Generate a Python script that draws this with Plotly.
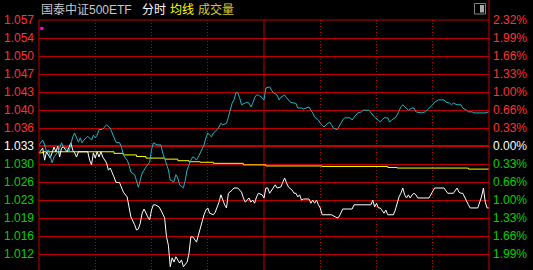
import plotly.graph_objects as go

# ---------------- data ----------------
prev_close = 1.033          # previous close of the ETF
grid_step_pct = 0.3319      # percent per horizontal grid step

left_labels = ["1.057", "1.054", "1.050", "1.047", "1.043", "1.040", "1.036",
               "1.033", "1.030", "1.026", "1.023", "1.019", "1.016", "1.012"]
right_labels = ["2.32%", "1.99%", "1.66%", "1.33%", "1.00%", "0.66%", "0.33%",
                "0.00%", "0.33%", "0.66%", "1.00%", "1.33%", "1.66%", "1.99%"]
grid_steps = [7, 6, 5, 4, 3, 2, 1, 0, -1, -2, -3, -4, -5, -6]

etf_minutes = [0, 2, 3, 4, 5, 6, 8, 9, 10, 11, 12, 13, 15, 17, 18, 19, 20, 21, 26, 27,
               28, 29, 30, 31, 32, 33, 34, 36, 37, 38, 40, 41, 43, 44, 45, 47, 48, 49, 51, 52,
               53, 54, 55, 56, 58, 59, 60, 61, 62, 64, 65, 67, 68, 69, 70, 71, 72, 73, 75, 76,
               77, 79, 80, 81, 82, 84, 85, 87, 88, 89, 90, 91, 93, 94, 95, 96, 97, 98, 99, 100,
               101, 103, 104, 106, 108, 109, 110, 112, 113, 114, 115, 116, 117, 119, 120, 121, 122, 123, 124, 126,
               127, 129, 130, 131, 132, 133, 135, 136, 137, 138, 139, 140, 141, 144, 145, 146, 147, 148, 149, 150,
               151, 153, 156, 158, 159, 160, 161, 162, 167, 168, 177, 178, 179, 180, 181, 182, 184, 185, 186, 189,
               190, 191, 192, 193, 194, 195, 196, 197, 198, 199, 200, 201, 202, 208, 209, 211, 216, 218, 221, 223,
               224, 225, 226, 228, 229, 230, 234, 236, 237, 238, 239, 240]
etf_price = [1.0317, 1.0326, 1.0303, 1.0319, 1.0313, 1.0307, 1.0328, 1.0319, 1.0330, 1.0309,
             1.0326, 1.0328, 1.0319, 1.0336, 1.0322, 1.0317, 1.0309, 1.0319, 1.0319, 1.0303,
             1.0294, 1.0317, 1.0307, 1.0319, 1.0309, 1.0319, 1.0309, 1.0298, 1.0284, 1.0288,
             1.0271, 1.0261, 1.0260, 1.0252, 1.0242, 1.0233, 1.0214, 1.0195, 1.0180, 1.0170,
             1.0172, 1.0183, 1.0202, 1.0210, 1.0195, 1.0189, 1.0208, 1.0218, 1.0218, 1.0214,
             1.0208, 1.0193, 1.0157, 1.0141, 1.0100, 1.0117, 1.0109, 1.0119, 1.0107, 1.0113,
             1.0100, 1.0109, 1.0126, 1.0157, 1.0157, 1.0147, 1.0160, 1.0189, 1.0199, 1.0208,
             1.0212, 1.0202, 1.0199, 1.0204, 1.0212, 1.0223, 1.0237, 1.0227, 1.0218, 1.0212,
             1.0240, 1.0246, 1.0250, 1.0250, 1.0242, 1.0231, 1.0223, 1.0231, 1.0223, 1.0227,
             1.0221, 1.0233, 1.0240, 1.0237, 1.0231, 1.0250, 1.0250, 1.0240, 1.0246, 1.0256,
             1.0250, 1.0252, 1.0261, 1.0269, 1.0260, 1.0252, 1.0246, 1.0240, 1.0240, 1.0233,
             1.0237, 1.0227, 1.0229, 1.0229, 1.0221, 1.0227, 1.0221, 1.0227, 1.0218, 1.0212,
             1.0199, 1.0199, 1.0199, 1.0195, 1.0193, 1.0195, 1.0202, 1.0210, 1.0210, 1.0218,
             1.0218, 1.0227, 1.0214, 1.0221, 1.0212, 1.0212, 1.0202, 1.0208, 1.0199, 1.0199,
             1.0208, 1.0221, 1.0233, 1.0240, 1.0250, 1.0237, 1.0231, 1.0237, 1.0231, 1.0237,
             1.0240, 1.0237, 1.0231, 1.0231, 1.0237, 1.0250, 1.0250, 1.0240, 1.0240, 1.0250,
             1.0242, 1.0240, 1.0240, 1.0223, 1.0218, 1.0212, 1.0212, 1.0233, 1.0250, 1.0223,
             1.0212, 1.0212]

index_minutes = [0, 1, 2, 3, 4, 5, 6, 7, 8, 10, 11, 12, 13, 15, 16, 17, 18, 19, 20, 21,
                 22, 23, 24, 25, 26, 28, 29, 30, 31, 32, 34, 35, 36, 38, 39, 41, 43, 44, 45, 47,
                 48, 49, 51, 52, 53, 54, 55, 57, 59, 60, 61, 63, 65, 66, 68, 69, 70, 72, 73, 74,
                 75, 77, 78, 79, 81, 82, 83, 84, 85, 87, 88, 89, 90, 91, 92, 93, 95, 96, 97, 98,
                 100, 101, 102, 103, 104, 105, 106, 107, 108, 110, 111, 112, 113, 114, 115, 116, 117, 119, 120, 121,
                 123, 124, 125, 127, 128, 129, 131, 132, 134, 136, 137, 138, 140, 141, 144, 145, 146, 147, 149, 150,
                 151, 152, 153, 155, 156, 157, 159, 160, 161, 162, 163, 166, 167, 168, 170, 172, 173, 176, 177, 179,
                 181, 182, 183, 184, 186, 187, 188, 190, 191, 192, 193, 194, 195, 196, 197, 199, 200, 201, 203, 204,
                 206, 207, 208, 210, 211, 213, 216, 217, 219, 220, 221, 223, 225, 226, 228, 229, 231, 232, 238, 240]
index_pct = [0.02, 0.07, 0.11, 0.02, -0.11, -0.07, -0.22, -0.31, -0.20, -0.11,
             -0.04, 0.06, -0.02, -0.04, -0.11, 0.06, 0.17, 0.24, 0.17, 0.07,
             0.15, 0.06, 0.11, 0.15, 0.18, 0.11, 0.20, 0.15, 0.20, 0.30,
             0.31, 0.35, 0.39, 0.33, 0.24, 0.07, 0.06, -0.02, -0.17, -0.26,
             -0.35, -0.48, -0.53, -0.63, -0.76, -0.63, -0.50, -0.39, -0.30, -0.07,
             0.06, 0.02, 0.02, -0.13, -0.35, -0.44, -0.63, -0.66, -0.53, -0.59,
             -0.72, -0.77, -0.63, -0.44, -0.26, -0.20, -0.22, -0.26, -0.20, -0.07,
             0.02, 0.15, 0.24, 0.20, 0.17, 0.24, 0.30, 0.35, 0.42, 0.39,
             0.42, 0.53, 0.66, 0.79, 0.85, 0.98, 0.98, 0.89, 0.76, 0.79,
             0.81, 0.79, 0.72, 0.79, 0.89, 0.94, 0.94, 0.89, 0.85, 1.07,
             1.09, 1.03, 0.98, 0.94, 0.85, 0.90, 0.94, 0.89, 0.81, 0.79,
             0.79, 0.70, 0.70, 0.68, 0.72, 0.66, 0.61, 0.53, 0.48, 0.42,
             0.39, 0.35, 0.39, 0.44, 0.39, 0.33, 0.30, 0.35, 0.42, 0.48,
             0.52, 0.52, 0.48, 0.53, 0.61, 0.63, 0.66, 0.66, 0.61, 0.53,
             0.48, 0.44, 0.48, 0.52, 0.52, 0.44, 0.48, 0.52, 0.57, 0.66,
             0.72, 0.76, 0.72, 0.70, 0.66, 0.70, 0.70, 0.63, 0.61, 0.61,
             0.63, 0.66, 0.70, 0.76, 0.81, 0.85, 0.85, 0.81, 0.79, 0.76,
             0.79, 0.76, 0.76, 0.70, 0.66, 0.63, 0.63, 0.61, 0.61, 0.63]

avg_minutes = [0, 2, 40, 45, 52, 57, 67, 74, 80, 86, 93, 109, 121, 151, 186, 191, 229, 240]
avg_price = [1.0317, 1.0319, 1.0316, 1.0313, 1.0310, 1.0307, 1.0305, 1.0302, 1.0300,
             1.0299, 1.0297, 1.0294, 1.0292, 1.0291, 1.0289, 1.0288, 1.0286, 1.0286]

marker_minute = [1.5]
marker_price = [1.0554]

title_parts = ["国泰中证500ETF", "分时", "均线", "成交量"]

# ---------------- styling ----------------
BG = "#000000"
RED = "#c00000"
UP = "#ff3232"
DOWN = "#00d200"
FONT = "Liberation Sans, Arial, Noto Sans CJK SC"

W, H = 533, 270
L, R, T, B = 39, 44, 20, 0
plot_h = H - T - B
px_per_step = 18.0
top_pct = 7 * grid_step_pct
bot_pct = top_pct - plot_h / px_per_step * grid_step_pct
pct_range = [bot_pct, top_pct + 1e-6]
price_range = [prev_close * (1 + p / 100) for p in pct_range]


def colored(text, s):
    c = UP if s > 0 else (DOWN if s < 0 else "#ffffff")
    return f'<span style="color:{c}">{text}</span>'


left_vals = [prev_close * (1 + s * grid_step_pct / 100) for s in grid_steps]
right_vals = [s * grid_step_pct for s in grid_steps]
left_text = [colored(t, s) for t, s in zip(left_labels, grid_steps)]
right_text = [colored(t, s) for t, s in zip(right_labels, grid_steps)]

fig = go.Figure()
fig.add_trace(go.Scatter(x=avg_minutes, y=avg_price, mode="lines", line=dict(color="#ffff00", width=1, shape="hv"),
                         yaxis="y", hoverinfo="skip"))
fig.add_trace(go.Scatter(x=index_minutes, y=index_pct, mode="lines", line=dict(color="#22b4c4", width=1),
                         yaxis="y2", hoverinfo="skip"))
fig.add_trace(go.Scatter(x=etf_minutes, y=etf_price, mode="lines", line=dict(color="#ffffff", width=1),
                         yaxis="y", hoverinfo="skip"))
fig.add_trace(go.Scatter(x=marker_minute, y=marker_price, mode="markers",
                         marker=dict(color="#ff00ff", size=3, symbol="square", line=dict(width=0)),
                         yaxis="y", hoverinfo="skip"))

shapes = []
# zero (previous close) line, thicker
shapes.append(dict(type="line", xref="paper", yref="y", x0=0, x1=1, y0=prev_close, y1=prev_close,
                   line=dict(color=RED, width=2), layer="below"))
# solid noon divider
shapes.append(dict(type="line", xref="x", yref="paper", x0=120, x1=120, y0=0, y1=1,
                   line=dict(color=RED, width=1), layer="below"))
# borders
shapes.append(dict(type="line", xref="paper", yref="paper", x0=0, x1=0, y0=0, y1=1,
                   line=dict(color=RED, width=1)))
shapes.append(dict(type="line", xref="paper", yref="paper", x0=0, x1=1, y0=1, y1=1,
                   line=dict(color=RED, width=1)))
shapes.append(dict(type="line", xref="paper", yref="paper", x0=1, x1=1, y0=0, y1=1 + T / plot_h,
                   line=dict(color=RED, width=1)))
# small window icon top right
def px_x(x):
    return (x - L) / (W - L - R)

def px_y(y):
    return 1 + (T - y) / plot_h

shapes.append(dict(type="rect", xref="paper", yref="paper", x0=px_x(474.5), x1=px_x(485.5),
                   y0=px_y(14), y1=px_y(3.5), line=dict(color="#808080", width=1), fillcolor=BG))
shapes.append(dict(type="rect", xref="paper", yref="paper", x0=px_x(480), x1=px_x(484),
                   y0=px_y(12.5), y1=px_y(5), line=dict(width=0), fillcolor="#a8a8a8"))

title_x = [39, 140, 168, 196]
title_colors = ["#c8c8c8", "#ffffff", "#ffff00", "#d2c83c"]
annotations = []
for t, x, c in zip(title_parts, title_x, title_colors):
    annotations.append(dict(text=t, xref="paper", yref="paper", x=px_x(x), y=px_y(10),
                            xanchor="left", yanchor="middle", showarrow=False,
                            font=dict(family=FONT, size=12, color=c)))

fig.update_layout(
    width=W, height=H,
    margin=dict(l=L, r=R, t=T, b=B, pad=0),
    paper_bgcolor=BG, plot_bgcolor=BG,
    showlegend=False,
    shapes=shapes,
    annotations=annotations,
    xaxis=dict(range=[0, 240], tickvals=[30, 60, 90, 150, 180, 210], showticklabels=False,
               showgrid=True, gridcolor=RED, gridwidth=1, griddash="1px,2px",
               zeroline=False, showline=False, ticks="", fixedrange=True),
    yaxis=dict(range=price_range, tickvals=left_vals, ticktext=left_text,
               showgrid=True, gridcolor=RED, gridwidth=1, zeroline=False, showline=False,
               ticks="", ticklabelstandoff=4, tickfont=dict(family=FONT, size=12, color="#ffffff"),
               fixedrange=True),
    yaxis2=dict(range=pct_range, overlaying="y", side="right", tickvals=right_vals, ticktext=right_text,
                showgrid=False, zeroline=False, showline=False, ticks="", ticklabelstandoff=3,
                tickfont=dict(family=FONT, size=12, color="#ffffff"), fixedrange=True),
)

fig.write_html("out.html", config={"displayModeBar": False})
